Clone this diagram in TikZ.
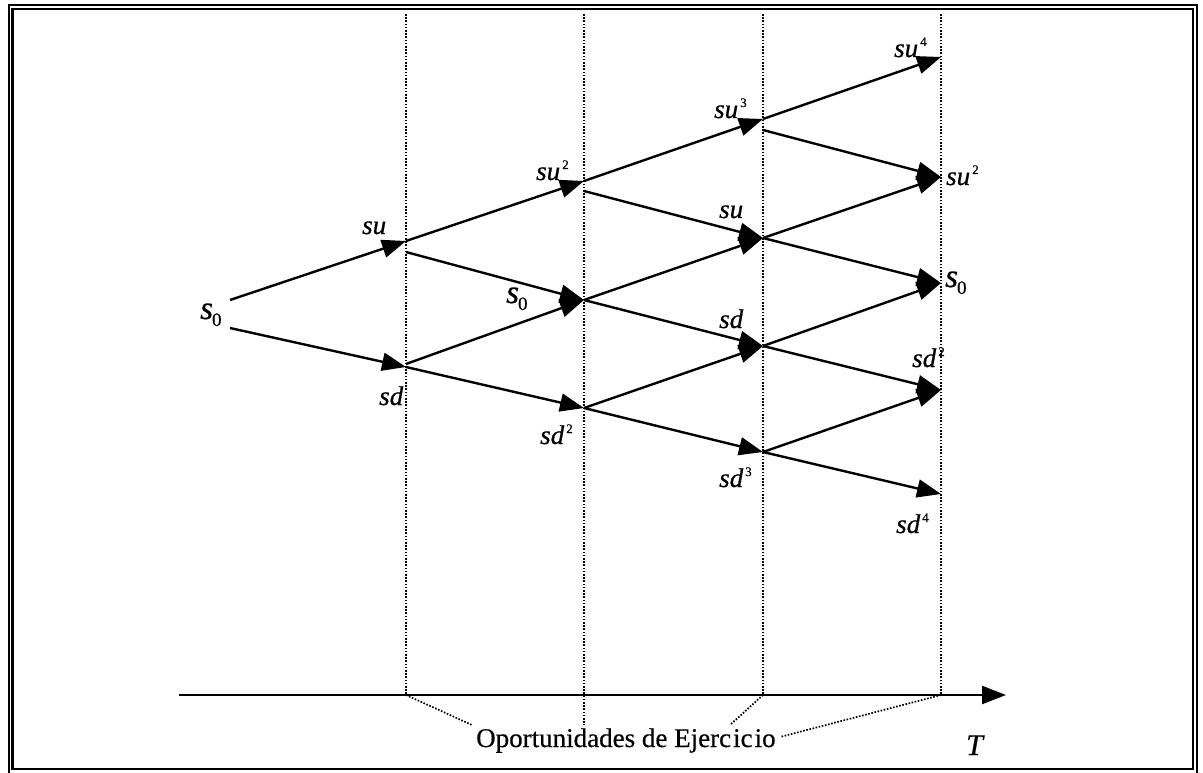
\documentclass[tikz,border=0pt]{standalone}
\usepackage{fontspec}
\setmainfont{Liberation Serif}
\usetikzlibrary{arrows.meta}
\newcommand{\lb}[1]{{\fontsize{27}{27}\selectfont\itshape\addfontfeature{FakeBold=0.7}#1}}
\newcommand{\lbsup}[2]{{\fontsize{27}{27}\selectfont\itshape\addfontfeature{FakeBold=0.7}#1}\kern2pt\raisebox{11pt}{\fontsize{13}{13}\selectfont\addfontfeature{FakeBold=0.5}#2}}
\newcommand{\lbz}{{\fontsize{33}{33}\selectfont\itshape\addfontfeature{FakeBold=0.7}s}\kern-1pt\raisebox{-7pt}{\fontsize{19}{19}\selectfont\addfontfeature{FakeBold=0.5}0}}
\begin{document}
\begin{tikzpicture}[x=1pt,y=-1pt,
  edge/.style={line width=2.4pt,-{Triangle[length=24pt,width=18pt]}},
  guide/.style={line width=1.7pt,dash pattern=on 1.6pt off 1.6pt},
  lab/.style={inner sep=0pt,anchor=base west}]
\useasboundingbox (0,0) rectangle (1203,773);
% frame
\draw[line width=2.8pt] (9,5) rectangle (1197,778);
\draw[line width=2.2pt] (12.5,9) rectangle (1193,769);
% guide lines
\coordinate (g1t) at (406,14); \coordinate (g1b) at (406,695);
\coordinate (g2t) at (584,14); \coordinate (g2b) at (584,725);
\coordinate (g3t) at (763,14); \coordinate (g3b) at (763,695);
\coordinate (g4t) at (941,14); \coordinate (g4b) at (941,695);
\draw[guide] (g1t) -- (g1b);
\draw[guide] (g2t) -- (g2b);
\draw[guide] (g3t) -- (g3b);
\draw[guide] (g4t) -- (g4b);
% axis
\coordinate (ax0) at (179,695); \coordinate (ax1) at (1006,695);
\draw[edge] (ax0) -- (ax1);
\node[lab] (T) at (966,755) {\fontsize{30}{30}\selectfont\itshape\addfontfeature{FakeBold=0.7}T};
\node[lab] (oe) at (476,747) {\fontsize{27}{27}\selectfont\addfontfeature{FakeBold=0.5}Oportunidades de Ejerc\kern2pt ic\kern2pt io};
\coordinate (c1) at (472,725); \coordinate (c3) at (730,725); \coordinate (c4) at (780,737);
\draw[guide] (g1b) -- (c1);
\draw[guide] (g3b) -- (c3);
\draw[guide] (g4b) -- (c4);
% tree points
\coordinate (n00u) at (230,300); \coordinate (n00d) at (230,328);
\coordinate (n10) at (406,241); \coordinate (n10d) at (406,252);
\coordinate (n11) at (406,367); \coordinate (n11u) at (406,364);
\coordinate (n20) at (584,181); \coordinate (n20d) at (584,191);
\coordinate (n21) at (584,300);
\coordinate (n22) at (584,408);
\coordinate (n30) at (763,119); \coordinate (n30d) at (763,130);
\coordinate (n31) at (763,238);
\coordinate (n32) at (763,346);
\coordinate (n33) at (763,452);
\coordinate (n40) at (941,57);
\coordinate (n41) at (941,177);
\coordinate (n42) at (941,283);
\coordinate (n43) at (941,390);
\coordinate (n44) at (941,494);
% edges
\draw[edge] (n00u) -- (n10);
\draw[edge] (n00d) -- (n11);
\draw[edge] (n10) -- (n20);
\draw[edge] (n10d) -- (n21);
\draw[edge] (n11u) -- (n21);
\draw[edge] (n11) -- (n22);
\draw[edge] (n20) -- (n30);
\draw[edge] (n20d) -- (n31);
\draw[edge] (n21) -- (n31);
\draw[edge] (n21) -- (n32);
\draw[edge] (n22) -- (n32);
\draw[edge] (n22) -- (n33);
\draw[edge] (n30) -- (n40);
\draw[edge] (n30d) -- (n41);
\draw[edge] (n31) -- (n41);
\draw[edge] (n31) -- (n42);
\draw[edge] (n32) -- (n42);
\draw[edge] (n32) -- (n43);
\draw[edge] (n33) -- (n43);
\draw[edge] (n33) -- (n44);
% labels
\node[lab] (l00) at (200,319) {\lbz};
\node[lab] (l10) at (362,234) {\lb{su}};
\node[lab] (l11) at (379,405) {\lb{sd}};
\node[lab] (l20) at (536,180) {\lbsup{su}{2}};
\node[lab] (l21) at (506,303) {\lbz};
\node[lab] (l22) at (540,444) {\lbsup{sd}{2}};
\node[lab] (l30) at (714,118) {\lbsup{su}{3}};
\node[lab] (l31) at (719,218) {\lb{su}};
\node[lab] (l32) at (719,328) {\lb{sd}};
\node[lab] (l33) at (719,487) {\lbsup{sd}{3}};
\node[lab] (l40) at (894,57) {\lbsup{su}{4}};
\node[lab] (l41) at (946,185) {\lbsup{su}{2}};
\node[lab] (l42) at (945,287) {\lbz};
\node[lab] (l43) at (912,367) {\lbsup{sd}{2}};
\node[lab] (l44) at (896,533) {\lbsup{sd}{4}};
\end{tikzpicture}
\end{document}
